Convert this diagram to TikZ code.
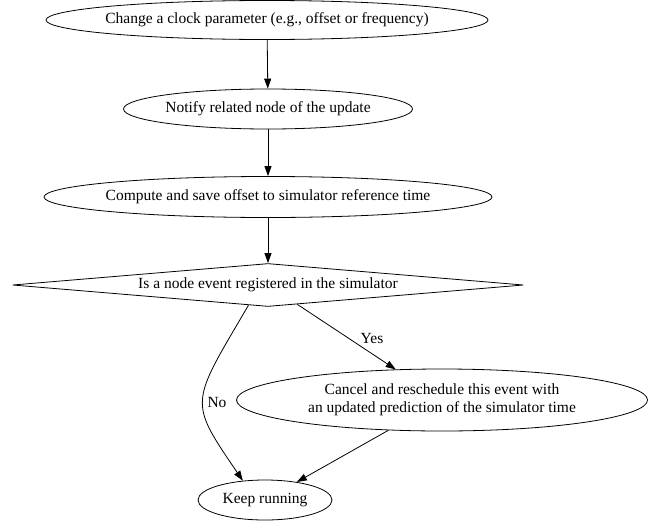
\documentclass[tikz,border=0pt]{standalone}
\usepackage{fontspec}
\setmainfont{Liberation Serif}
\usetikzlibrary{shapes.geometric,arrows.meta}
\begin{document}
\begin{tikzpicture}[x=1pt,y=-1pt,
  every node/.style={font=\fontsize{15.5}{18}\selectfont},
  ell/.style={draw,ellipse,inner xsep=-50pt,inner ysep=-12pt,line width=0.8pt},
  dia/.style={draw,diamond,shape aspect=12,inner sep=0pt,line width=0.8pt},
  arr/.style={-{Triangle[length=10pt,width=7pt]},line width=0.8pt},
  lbl/.style={inner sep=0pt}]
\useasboundingbox (0,0) rectangle (650,522);
\node[ell,minimum width=442pt,minimum height=39pt] (n1) at (267,20) {Change a clock parameter (e.g., offset or frequency)};
\node[ell,minimum width=289pt,minimum height=40pt] (n2) at (268,109) {Notify related node of the update};
\node[ell,minimum width=448pt,minimum height=41pt] (n3) at (268,197) {Compute and save offset to simulator reference time};
\node[dia,minimum width=511pt,minimum height=43pt] (d) at (268,285) {Is a node event registered in the simulator};
\node[ell,align=center,minimum width=411pt,minimum height=62pt] (n5) at (442,400) {Cancel and reschedule this event with\\an updated prediction of the simulator time};
\node[ell,minimum width=134pt,minimum height=40pt] (n6) at (265,500) {Keep running};
\draw[arr] (n1) -- (n2);
\draw[arr] (n2) -- (n3);
\draw[arr] (n3) -- (d);
\draw[arr] (d) -- (n5);
\draw[arr] (d.226) .. controls (190,405) and (188,400) .. (n6.139);
\draw[arr] (n5) -- (n6);
\node[lbl] (yes) at (372,338) {Yes};
\node[lbl] (no) at (217,402) {No};
\end{tikzpicture}
\end{document}
